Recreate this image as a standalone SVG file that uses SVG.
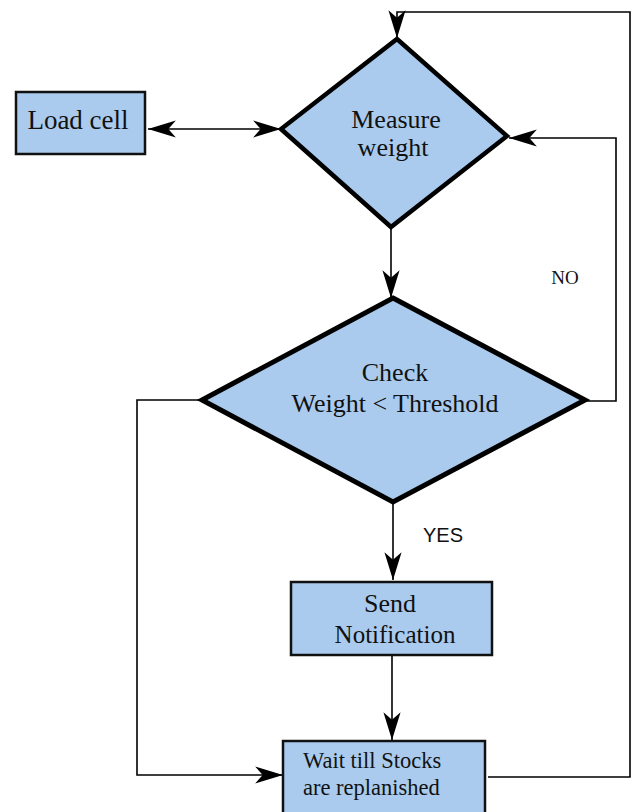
<svg xmlns="http://www.w3.org/2000/svg" width="637" height="812" viewBox="0 0 637 812">
<style>
.box{fill:#aacbee;stroke:#111;stroke-width:2.5}
.dia{fill:#aacbee;stroke:#000;stroke-width:4.5;stroke-linejoin:miter}
.lbl{font-family:"Liberation Serif","Times New Roman",serif;font-size:26px;fill:#111;text-anchor:middle}
.conn{fill:none;stroke:#000;stroke-width:1.6}
</style>
<defs>
<marker id="ah" markerUnits="userSpaceOnUse" markerWidth="30" markerHeight="20" viewBox="-27 -9 28 18" refX="0" refY="0" orient="auto-start-reverse">
<path d="M0,0 L-26,-8 L-19,0 L-26,8 Z" fill="#000"/>
</marker>
</defs>
<rect width="637" height="812" fill="#fff"/>
<g id="connectors">
<line class="conn" x1="148" y1="129" x2="281" y2="129" marker-start="url(#ah)" marker-end="url(#ah)"/>
<path class="conn" d="M488,777 H630 V12 H397 V38" marker-end="url(#ah)"/>
<path class="conn" d="M391,227 V298" marker-end="url(#ah)"/>
<path class="conn" d="M585,401 H616 V138 H509" marker-end="url(#ah)"/>
<path class="conn" d="M393,502 V580" marker-end="url(#ah)"/>
<path class="conn" d="M392,655 V740" marker-end="url(#ah)"/>
<path class="conn" d="M202,400 H137 V775 H283" marker-end="url(#ah)"/>
<text x="565" y="284" style="font-family:'Liberation Serif','Times New Roman',serif;font-size:19px;fill:#111" text-anchor="middle">NO</text>
<text x="443" y="542" style="font-family:'Liberation Sans',Arial,sans-serif;font-size:20px;fill:#111" text-anchor="middle">YES</text>
</g>
<g id="load-cell">
<rect class="box" x="16" y="92" width="129" height="62"/>
<text class="lbl" x="78" y="129" style="font-size:27px">Load cell</text>
</g>
<g id="measure-weight">
<polygon class="dia" points="397,39 507,136 391,227 281,129"/>
<text class="lbl" x="396" y="128">Measure</text>
<text class="lbl" x="393" y="156">weight</text>
</g>
<g id="check">
<polygon class="dia" points="393,298 585,400 393,502 202,400" style="stroke-width:5"/>
<text class="lbl" x="395" y="381">Check</text>
<text class="lbl" x="395" y="412">Weight &lt; Threshold</text>
</g>
<g id="send-notification">
<rect class="box" x="291" y="582" width="201" height="73"/>
<text class="lbl" x="390" y="612">Send</text>
<text class="lbl" x="395" y="643" style="font-size:25px">Notification</text>
</g>
<g id="wait">
<rect class="box" x="283" y="741" width="202" height="75"/>
<text class="lbl" x="303" y="768" style="font-size:22.5px;text-anchor:start">Wait till Stocks</text>
<text class="lbl" x="303" y="795" style="font-size:22.5px;text-anchor:start">are replanished</text>
</g>
</svg>
